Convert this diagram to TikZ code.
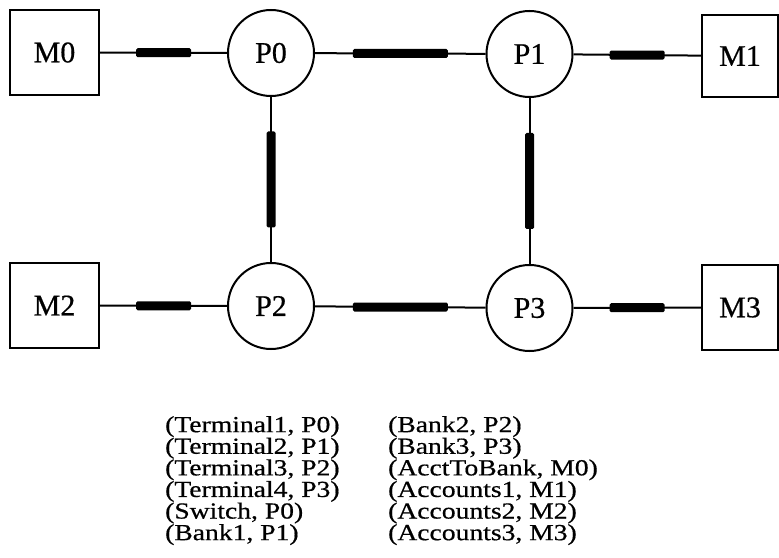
\documentclass[tikz,border=0pt]{standalone}
\usepackage{fontspec}
\setmainfont{Liberation Serif}
\newfontfamily\labelfont[FakeBold=0.6]{Liberation Serif}
\newfontfamily\widefont[FakeStretch=1.2,FakeBold=0.6]{Liberation Serif}
\begin{document}
\begin{tikzpicture}[x=1bp,y=-1bp,
  mbox/.style={draw, line width=2.2bp, minimum width=89bp, minimum height=85bp, inner sep=0pt, font=\labelfont\fontsize{30bp}{32bp}\selectfont},
  proc/.style={circle, draw, line width=2bp, minimum size=86bp, inner sep=0pt, font=\labelfont\fontsize{30bp}{32bp}\selectfont},
  link/.style={line width=2bp},
  sbar/.style={fill=black, rounded corners=1.5bp, minimum width=55bp, minimum height=9bp, inner sep=0pt},
  lbar/.style={fill=black, rounded corners=1.5bp, minimum width=95bp, minimum height=9bp, inner sep=0pt},
  vbar/.style={fill=black, rounded corners=1.5bp, minimum width=9bp, minimum height=96bp, inner sep=0pt},
  listtext/.style={align=left, inner sep=0pt, font=\widefont\fontsize{23bp}{21.6bp}\selectfont}
]
\useasboundingbox (0,0) rectangle (779,558);
\node[mbox] (M0) at (54.5,52.5) {M0};
\node[proc] (P0) at (271,53) {P0};
\node[proc] (P1) at (529.5,54) {P1};
\node[mbox, minimum width=76bp, minimum height=82bp] (M1) at (740,56) {M1};
\node[mbox] (M2) at (54.5,305.5) {M2};
\node[proc] (P2) at (271,306) {P2};
\node[proc] (P3) at (529.5,308) {P3};
\node[mbox, minimum width=76bp] (M3) at (740,307.5) {M3};

\draw[link] (M0) -- node[sbar]{} (P0);
\draw[link] (P0) -- node[lbar]{} (P1);
\draw[link] (P1) -- node[sbar]{} (M1);
\draw[link] (M2) -- node[sbar]{} (P2);
\draw[link] (P2) -- node[lbar]{} (P3);
\draw[link] (P3) -- node[sbar]{} (M3);
\draw[link] (P0) -- node[vbar]{} (P2);
\draw[link] (P1) -- node[vbar]{} (P3);

\node[listtext, anchor=north west] (L) at (165,416) {(Terminal1, P0)\\(Terminal2, P1)\\(Terminal3, P2)\\(Terminal4, P3)\\(Switch, P0)\\(Bank1, P1)};
\node[listtext, anchor=north west] (R) at (388,416) {(Bank2, P2)\\(Bank3, P3)\\(AcctToBank, M0)\\(Accounts1, M1)\\(Accounts2, M2)\\(Accounts3, M3)};
\end{tikzpicture}
\end{document}
